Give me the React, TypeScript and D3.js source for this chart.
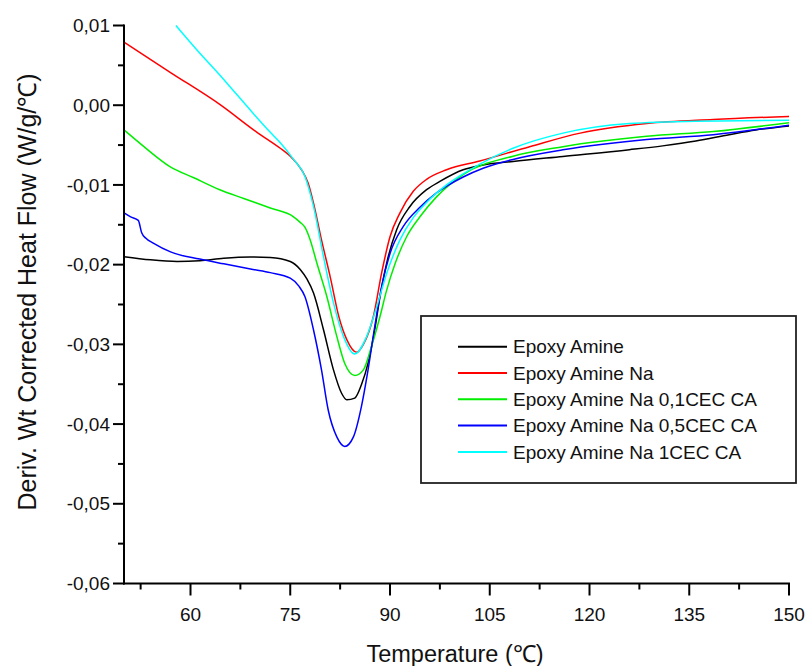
import React from "react";
import * as d3 from "d3";

const xMajorTicks = [60, 75, 90, 105, 120, 135, 150];
const xMinorTicks = [52.5, 67.5, 82.5, 97.5, 112.5, 127.5, 142.5];
const yMajorTicks = [0.01, 0, -0.01, -0.02, -0.03, -0.04, -0.05, -0.06];
const yMinorTicks = [0.005, -0.005, -0.015, -0.025, -0.035, -0.045, -0.055];

const seriesNames = [
  "Epoxy Amine",
  "Epoxy Amine Na",
  "Epoxy Amine Na 0,1CEC CA",
  "Epoxy Amine Na 0,5CEC CA",
  "Epoxy Amine Na 1CEC CA",
];
const seriesColors = ["#000000", "#ff0000", "#00ee00", "#0000ff", "#00ffff"];

const blackX = [50, 54, 58, 61.4, 65, 69, 72, 75, 76.5, 77.5, 78.5, 80, 81.5, 82.7, 83.5, 84.7, 85.7, 86.7, 87.7, 88.5, 89.5, 91, 93, 95.5, 97.5, 101, 104, 108.5, 116, 126, 131, 136, 141, 145, 150];
const blackY = [-0.019, -0.0194, -0.0196, -0.0195, -0.0192, -0.01905, -0.0191, -0.0196, -0.0206, -0.0218, -0.02357, -0.02817, -0.0332, -0.0361, -0.03695, -0.03674, -0.03507, -0.03235, -0.02817, -0.024, -0.0198, -0.01562, -0.0127, -0.0106, -0.00956, -0.0081, -0.0075, -0.00705, -0.00642, -0.00558, -0.0051, -0.0045, -0.0037, -0.0031, -0.0026];

const redX = [50, 57, 64.4, 70, 73.5, 75, 76.7, 77.7, 78.5, 79.7, 81, 82.3, 83.5, 85, 86, 87.5, 88.75, 90, 91.5, 93.5, 95.5, 98.5, 103.5, 111, 118.6, 128.6, 138.6, 150];
const redY = [0.0079, 0.0041, 0.0001, -0.0034, -0.0054, -0.0064, -0.0081, -0.0098, -0.0123, -0.0169, -0.0215, -0.0265, -0.0294, -0.031, -0.03, -0.0265, -0.021, -0.0165, -0.0135, -0.0108, -0.0093, -0.0081, -0.007, -0.0052, -0.0035, -0.0023, -0.0018, -0.0014];

const greenX = [50, 53, 56.9, 60.5, 64.4, 68, 72, 75.5, 76.5, 77.2, 78, 79, 80.5, 82, 83.2, 84.7, 86, 87.2, 88.5, 89.5, 90.8, 92.5, 94.5, 97, 101, 108.5, 116, 128.6, 138.6, 150];
const greenY = [-0.0031, -0.0052, -0.0077, -0.0091, -0.0106, -0.0117, -0.0129, -0.014, -0.0147, -0.0153, -0.0169, -0.0198, -0.024, -0.029, -0.0324, -0.0339, -0.0332, -0.0303, -0.0265, -0.0232, -0.0198, -0.0165, -0.014, -0.0115, -0.0087, -0.0064, -0.0052, -0.0039, -0.0033, -0.0022];

const blueX = [50, 51, 52.15, 52.66, 53.3, 54.4, 57, 61.4, 65, 69.4, 72, 75, 76.3, 77.2, 78.5, 79.7, 80.7, 82, 83.2, 84.5, 85.7, 86.7, 87.7, 88.75, 90, 92, 94.5, 97, 101, 104, 108.5, 116, 128.6, 138.6, 150];
const blueY = [-0.0135, -0.014, -0.01445, -0.016, -0.0167, -0.0173, -0.0184, -0.0193, -0.0199, -0.0206, -0.021, -0.0217, -0.0227, -0.024, -0.0282, -0.0332, -0.0382, -0.0416, -0.0428, -0.0416, -0.0378, -0.0332, -0.0278, -0.0227, -0.0186, -0.0152, -0.0128, -0.011, -0.009, -0.0079, -0.0068, -0.0056, -0.0043, -0.0037, -0.0025];

const cyanX = [57.8, 61, 64.4, 67, 69.4, 72, 73.5, 75.5, 77.2, 78.5, 80, 81.5, 83, 84.7, 86.5, 88, 89.5, 91.5, 93.5, 95.5, 98.5, 103.5, 108.5, 116, 126, 136, 150];
const cyanY = [0.01, 0.0069, 0.0038, 0.0013, -0.001, -0.0034, -0.0047, -0.0068, -0.0089, -0.0127, -0.019, -0.0248, -0.029, -0.0312, -0.029, -0.0253, -0.0211, -0.0169, -0.0141, -0.0122, -0.01, -0.0074, -0.0054, -0.0035, -0.0023, -0.002, -0.0019];

const seriesX = [blackX, redX, greenX, blueX, cyanX];
const seriesY = [blackY, redY, greenY, blueY, cyanY];

const FONT = "'Liberation Sans', Arial, sans-serif";

export default function App() {
  const left = 124;
  const right = 789;
  const top = 25.5;
  const bottom = 583.5;
  const x = d3.scaleLinear().domain([50, 150]).range([left, right]);
  const y = d3.scaleLinear().domain([-0.06, 0.01]).range([bottom, top]);
  const fmt = (v: number) =>
    d3.format(".2f")(Math.abs(v) < 1e-9 ? 0 : v).replace(".", ",").replace("\u2212", "-");

  const line = d3
    .line<[number, number]>()
    .x((d) => x(d[0]))
    .y((d) => y(d[1]))
    .curve(d3.curveMonotoneX);

  const legendX = 421;
  const legendY = 316;
  const legendW = 375;
  const legendH = 167;

  return (
    <svg
      width={808}
      height={666}
      style={{ position: "absolute", left: 0, top: 0, background: "#fff" }}
      fontFamily={FONT}
    >
      <rect x={0} y={0} width={808} height={666} fill="#fff" />
      {seriesX.map((xs, i) => (
        <path
          key={i}
          d={line(xs.map((v, j) => [v, seriesY[i][j]] as [number, number])) || ""}
          fill="none"
          stroke={seriesColors[i]}
          strokeWidth={1.5}
          strokeLinejoin="round"
        />
      ))}

      <line x1={left} x2={left} y1={top - 1} y2={bottom + 1} stroke="#000" strokeWidth={2} />
      <line x1={left - 1} x2={right + 1} y1={bottom} y2={bottom} stroke="#000" strokeWidth={2} />

      {yMajorTicks.map((t) => (
        <g key={"ym" + t}>
          <line x1={left - 11} x2={left} y1={y(t)} y2={y(t)} stroke="#000" strokeWidth={2} />
          <text x={left - 14} y={y(t)} dy="0.35em" textAnchor="end" fontSize={19} fill="#111">
            {fmt(t)}
          </text>
        </g>
      ))}
      {yMinorTicks.map((t) => (
        <line key={"yn" + t} x1={left - 6} x2={left} y1={y(t)} y2={y(t)} stroke="#000" strokeWidth={2} />
      ))}
      {xMajorTicks.map((t) => (
        <g key={"xm" + t}>
          <line x1={x(t)} x2={x(t)} y1={bottom} y2={bottom + 12} stroke="#000" strokeWidth={2} />
          <text x={x(t)} y={621} textAnchor="middle" fontSize={19} fill="#111">
            {t}
          </text>
        </g>
      ))}
      {xMinorTicks.map((t) => (
        <line key={"xn" + t} x1={x(t)} x2={x(t)} y1={bottom} y2={bottom + 6} stroke="#000" strokeWidth={2} />
      ))}

      <text x={455} y={662} textAnchor="middle" fontSize={23.5} fill="#111">
        Temperature (℃)
      </text>
      <text
        transform={`translate(36, 292) rotate(-90)`}
        textAnchor="middle"
        fontSize={25}
        fill="#111"
      >
        Deriv. Wt Corrected Heat Flow (W/g/℃)
      </text>

      <rect x={legendX} y={legendY} width={legendW} height={legendH} fill="#fff" stroke="#222" strokeWidth={1.8} />
      {seriesNames.map((n, i) => {
        const ry = 346.7 + i * 26.3;
        return (
          <g key={n}>
            <line x1={458} x2={507} y1={ry} y2={ry} stroke={seriesColors[i]} strokeWidth={2} />
            <text x={513} y={ry} dy="0.35em" fontSize={19} fill="#111">
              {n}
            </text>
          </g>
        );
      })}
    </svg>
  );
}
